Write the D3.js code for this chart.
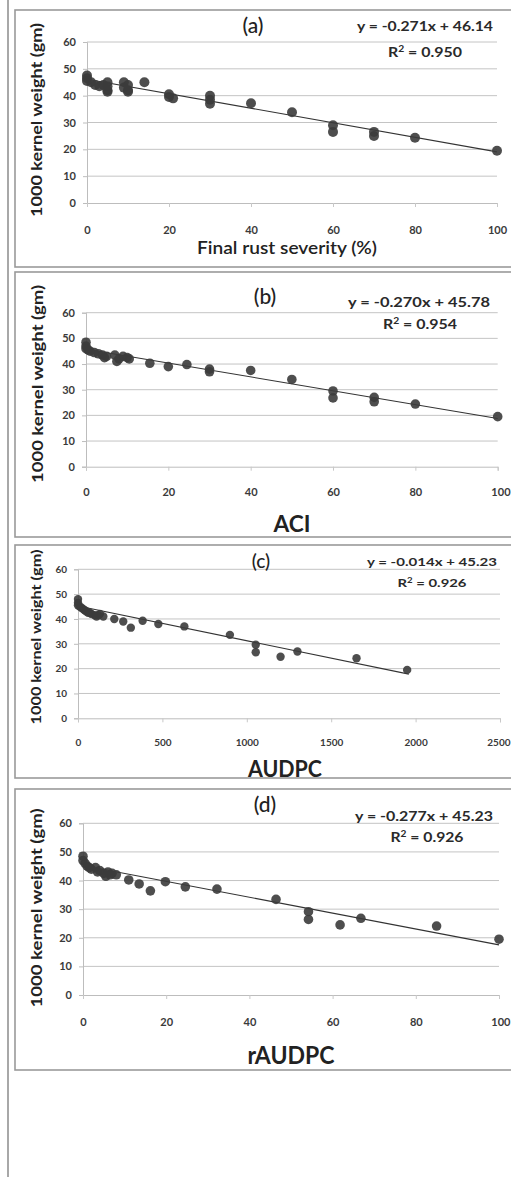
<!DOCTYPE html>
<html><head><meta charset="utf-8">
<script src="https://cdn.jsdelivr.net/npm/d3@7"></script>
<style>
html,body{margin:0;padding:0;background:#fff;}
svg{display:block;}
text{font-family:Lato,"Open Sans",sans-serif;}
</style></head>
<body>
<svg id="chart" width="511" height="1177"></svg>
<script>
// ---------- DATA ----------
const yTicks = [0, 10, 20, 30, 40, 50, 60];
const pctTicks = [0, 20, 40, 60, 80, 100];
const audpcTicks = [0, 500, 1000, 1500, 2000, 2500];

// (a) Final rust severity (%)
const aX = [0,0,0,1,2,3,4,5,5,5,5,9,9,10,10,10,14,20,20,21,30,30,30,40,50,60,60,70,70,80,100];
const aY = [47.5,46.5,45.5,45,44,43.5,44,45,43.5,42,41.5,45,43,42,41.5,44,45,40.5,39.5,39,40,38.5,37,37.2,33.8,29,26.5,26.5,25,24.3,19.5];
// (b) ACI
const bX = [0,0,0,0.5,1,2,3,4,4.5,5,7,7.5,8,9,10,10.5,15.5,20,24.5,30,30,40,50,60,60,70,70,80,100];
const bY = [48.5,47,46,45.5,45,44.5,44,43.5,42.5,43,43.5,41,42,43,42.5,42,40.3,39,39.8,38,37,37.5,34,29.5,26.8,27,25.3,24.4,19.5];
// (c) AUDPC
const cX = [0,0,0,10,20,30,40,50,60,70,80,100,110,120,130,150,215,268,313,383,476,630,900,1053,1053,1200,1300,1650,1950];
const cY = [48,46.5,45.5,45,44.5,44,43.5,43,42.5,42.5,42,41.5,41,41.5,42,41,40,39,36.5,39.3,38,37,33.6,29.6,26.6,24.8,26.9,24.2,19.5];
// (d) rAUDPC
const dX = [0,0,0.5,1,1.5,2,3,3.5,4,5,5.5,6,6.5,7,8,11,13.5,16.2,19.8,24.6,32.2,46.4,54.2,54.2,61.8,66.8,85,100];
const dY = [48.5,47,46,45,44.5,44,44.5,43,43.5,42.5,41.5,43,42,42.5,42,40.2,38.8,36.4,39.6,37.8,37,33.4,29.1,26.4,24.5,26.8,24.1,19.5];

// regression: [slope, intercept, xEnd]
const aFit = [-0.271, 46.14, 100];
const bFit = [-0.270, 45.78, 100];
const cFit = [-0.014, 45.23, 1960];
const dFit = [-0.277, 45.23, 100];

const panelLabels = ["(a)", "(b)", "(c)", "(d)"];
const eqLabels = ["y = -0.271x + 46.14", "y = -0.270x + 45.78", "y = -0.014x + 45.23", "y = -0.277x + 45.23"];
const r2Labels = ["0.950", "0.954", "0.926", "0.926"];
const xTitles = ["Final rust severity (%)", "ACI", "AUDPC", "rAUDPC"];
const yTitle = "1000 kernel weight (gm)";

// ---------- LAYOUT ----------
const panels = [
  {X:aX, Y:aY, fit:aFit, xDom:[0,100], xt:pctTicks, box:[15,10,267], px:[87,497], py:[203,42], tickB:234,
   lab:[253,33,21], eq:[425,31,13,136], r2:[425,57,13,74], yt:[37,120,15,194], xtl:[287,254,17,180,600], r:5},
  {X:bX, Y:bY, fit:bFit, xDom:[0,100], xt:pctTicks, box:[15,272,537], px:[86,497.7], py:[466.7,312.7], tickB:496,
   lab:[265,304,21], eq:[419,307,13,142], r2:[420,329,13,74], yt:[38,384,15,198], xtl:[292,532,22,37,700], r:4.8},
  {X:cX, Y:cY, fit:cFit, xDom:[0,2500], xt:audpcTicks, box:[15,545,778], px:[78,500], py:[718.3,569.3], tickB:746,
   lab:[261,568,19], eq:[432,566,11,130], r2:[432,587,11,69], yt:[36,637,13,175], xtl:[285,777,22,74,700], r:4.2},
  {X:dX, Y:dY, fit:dFit, xDom:[0,100], xt:pctTicks, box:[15,789,1070], px:[83,499], py:[995,823.3], tickB:1026,
   lab:[265,812,21], eq:[424,821,13,138], r2:[427,842,13,73], yt:[37,908,15,199], xtl:[291,1064,24,87,700], r:4.8}
];

const svg = d3.select("#chart");
const defs = svg.append("defs");
defs.append("filter").attr("id","soft").attr("x","-50%").attr("y","-50%").attr("width","200%").attr("height","200%")
  .append("feGaussianBlur").attr("stdDeviation",0.7);

// outer left rule
svg.append("line").attr("x1",8).attr("x2",8).attr("y1",0).attr("y2",1177)
  .attr("stroke","#a8a8a8").attr("stroke-width",2);

panels.forEach((p,i) => {
  const g = svg.append("g");
  // panel frame
  g.append("rect").attr("x",p.box[0]).attr("y",p.box[1]).attr("width",520-p.box[0]).attr("height",p.box[2]-p.box[1])
    .attr("fill","#fff").attr("stroke","#9a9a9a").attr("stroke-width",1.6);

  const x = d3.scaleLinear().domain(p.xDom).range(p.px);
  const y = d3.scaleLinear().domain([0,60]).range(p.py);

  // gridlines
  g.append("g").selectAll("line").data(yTicks.filter(v=>v>0)).join("line")
    .attr("x1",p.px[0]).attr("x2",p.px[1]).attr("y1",d=>y(d)).attr("y2",d=>y(d))
    .attr("stroke","#c4c4c4").attr("stroke-width",1);

  const fs = i===2 ? 10 : 11;
  // y axis
  const ya = g.append("g").attr("transform",`translate(${p.px[0]},0)`)
    .call(d3.axisLeft(y).tickValues(yTicks).tickSize(4).tickPadding(7));
  ya.select(".domain").attr("stroke","#bdbdbd");
  ya.selectAll(".tick line").attr("stroke","#bdbdbd");
  ya.selectAll(".tick text").attr("fill","#3a3a3a").attr("font-size",fs).attr("font-weight","bold")
    .attr("font-family","Lato,sans-serif");

  // x axis
  const xa = g.append("g").attr("transform",`translate(0,${p.py[0]})`)
    .call(d3.axisBottom(x).tickValues(p.xt).tickFormat(d3.format("d")).tickSize(4).tickPadding(0));
  xa.select(".domain").attr("stroke","#bdbdbd");
  xa.selectAll(".tick line").attr("stroke","#c8c8c8");
  xa.selectAll(".tick text").attr("fill","#3a3a3a").attr("font-size",fs).attr("font-weight","bold")
    .attr("font-family","Lato,sans-serif").attr("dy",null).attr("y",p.tickB-p.py[0]);
  // keep the last label inside the picture
  xa.selectAll(".tick text").filter((d,k,n)=>k===n.length-1 && x(d)+14>511)
    .attr("text-anchor","end").attr("x",510-x(p.xDom[1]));

  // regression line
  g.append("line").attr("x1",x(0)).attr("y1",y(p.fit[1]))
    .attr("x2",x(p.fit[2])).attr("y2",y(p.fit[0]*p.fit[2]+p.fit[1]))
    .attr("stroke","#333").attr("stroke-width",1.1);

  // points
  g.append("g").attr("filter","url(#soft)").selectAll("circle").data(p.X.map((v,k)=>[v,p.Y[k]])).join("circle")
    .attr("cx",d=>x(d[0])).attr("cy",d=>y(d[1])).attr("r",p.r)
    .attr("fill","#3c3c3c").attr("fill-opacity",0.9);

  // panel label
  g.append("text").attr("x",p.lab[0]).attr("y",p.lab[1]).attr("text-anchor","middle")
    .attr("font-size",p.lab[2]).attr("font-weight",500).attr("fill","#222").text(panelLabels[i]);

  // equation & R2
  g.append("text").attr("x",p.eq[0]).attr("y",p.eq[1]).attr("text-anchor","middle")
    .attr("font-size",p.eq[2]).attr("font-weight","bold").attr("fill","#2a2a2a")
    .attr("textLength",p.eq[3]).attr("lengthAdjust","spacingAndGlyphs").text(eqLabels[i]);
  const r2 = g.append("text").attr("x",p.r2[0]).attr("y",p.r2[1]).attr("text-anchor","middle")
    .attr("font-size",p.r2[2]).attr("font-weight","bold").attr("fill","#2a2a2a")
    .attr("textLength",p.r2[3]).attr("lengthAdjust","spacingAndGlyphs");
  r2.append("tspan").text("R");
  r2.append("tspan").attr("baseline-shift","super").attr("font-size",p.r2[2]*0.65).text("2");
  r2.append("tspan").text(" = " + r2Labels[i]);

  // y title
  g.append("text").attr("transform",`translate(${p.yt[0]},${p.yt[1]}) rotate(-90)`)
    .attr("text-anchor","middle").attr("dy","0.35em")
    .attr("font-size",p.yt[2]).attr("font-weight","bold").attr("fill","#222")
    .attr("textLength",p.yt[3]).attr("lengthAdjust","spacingAndGlyphs").text(yTitle);

  // x title
  g.append("text").attr("x",p.xtl[0]).attr("y",p.xtl[1]).attr("text-anchor","middle")
    .attr("font-size",p.xtl[2]).attr("font-weight",p.xtl[4]).attr("fill","#222")
    .attr("textLength",p.xtl[3]).attr("lengthAdjust","spacingAndGlyphs").text(xTitles[i]);
});
</script>
</body></html>
